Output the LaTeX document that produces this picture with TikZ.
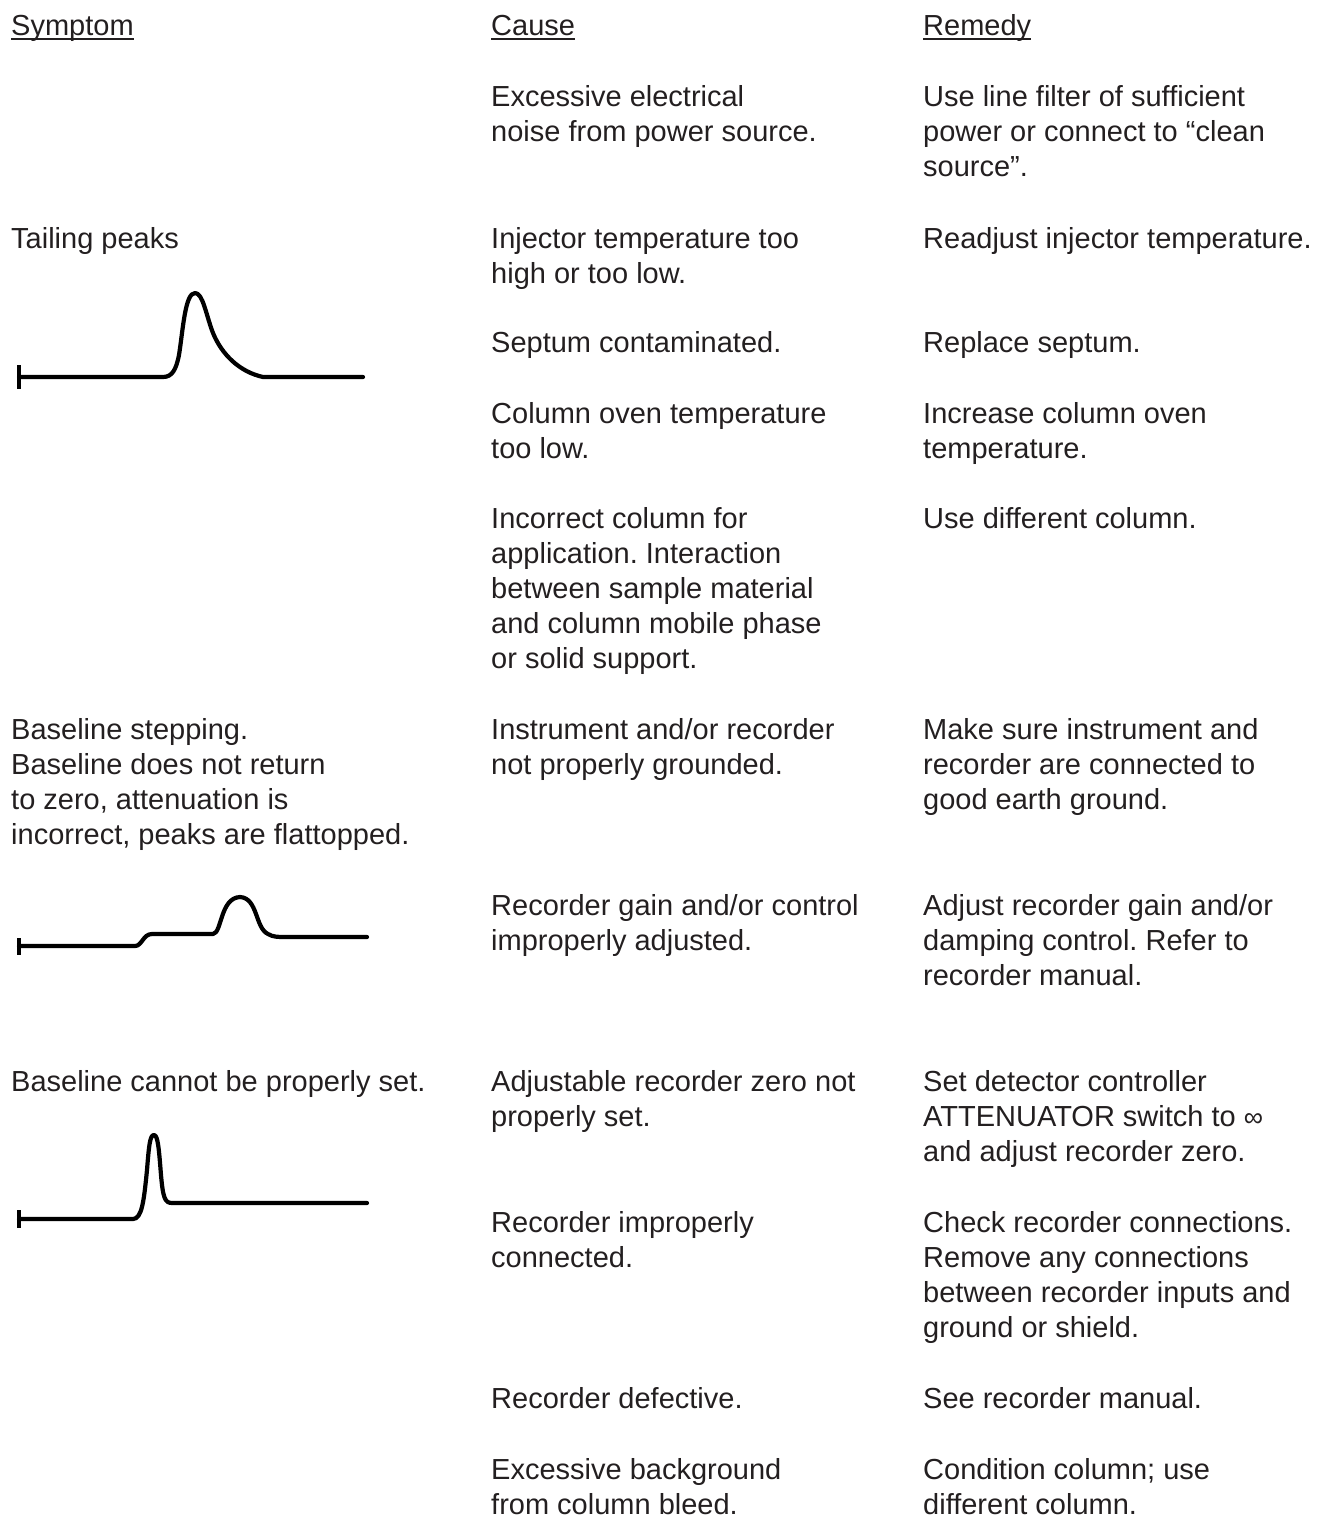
\documentclass[tikz,border=0pt]{standalone}
\usepackage{fontspec}
\setmainfont{Liberation Sans}
\frenchspacing
\definecolor{ink}{HTML}{231F20}
\newcommand\blk[1]{\begin{tabular}[t]{@{}l@{}}#1\end{tabular}}
\begin{document}
\begin{tikzpicture}[x=1pt,y=-1pt,
  txt/.style={anchor=base west, inner sep=0pt, font=\fontsize{29}{35.2}\selectfont\frenchspacing, text=ink},
  trace/.style={draw=black, line width=4.2pt, line cap=round, line join=round},
  tick/.style={draw=black, line width=3.6pt}]
\useasboundingbox (0,0) rectangle (1317,1518);
% headers
\node[txt] (hs) at (11,35) {Symptom};
\node[txt] (hc) at (491,35) {Cause};
\node[txt] (hr) at (923,35) {Remedy};
\foreach \h in {hs,hc,hr}
  \draw[ink, line width=1.8pt] ([yshift=-4pt]\h.base west) -- ([yshift=-4pt]\h.base east);
% row 1
\node[txt] (c1) at (491,106) {\blk{Excessive electrical\\noise from power source.}};
\node[txt] (r1) at (923,106) {\blk{Use line filter of sufficient\\power or connect to “clean\\source”.}};
% tailing peaks
\node[txt] (s2) at (11,248) {Tailing peaks};
\node[txt] (c2) at (491,248) {\blk{Injector temperature too\\high or too low.}};
\node[txt] (r2) at (923,248) {Readjust injector temperature.};
\node[txt] (c3) at (491,352) {Septum contaminated.};
\node[txt] (r3) at (923,352) {Replace septum.};
\node[txt] (c4) at (491,423) {\blk{Column oven temperature\\too low.}};
\node[txt] (r4) at (923,423) {\blk{Increase column oven\\temperature.}};
\node[txt] (c5) at (491,528) {\blk{Incorrect column for\\application. Interaction\\between sample material\\and column mobile phase\\or solid support.}};
\node[txt] (r5) at (923,528) {Use different column.};
% baseline stepping
\node[txt] (s6) at (11,739) {\blk{Baseline stepping.\\Baseline does not return\\to zero, attenuation is\\incorrect, peaks are flattopped.}};
\node[txt] (c6) at (491,739) {\blk{Instrument and/or recorder\\not properly grounded.}};
\node[txt] (r6) at (923,739) {\blk{Make sure instrument and\\recorder are connected to\\good earth ground.}};
\node[txt] (c7) at (491,915) {\blk{Recorder gain and/or control\\improperly adjusted.}};
\node[txt] (r7) at (923,915) {\blk{Adjust recorder gain and/or\\damping control. Refer to\\recorder manual.}};
% baseline cannot be set
\node[txt] (s8) at (11,1091) {Baseline cannot be properly set.};
\node[txt] (c8) at (491,1091) {\blk{Adjustable recorder zero not\\properly set.}};
\node[txt] (r8) at (923,1091) {\blk{Set detector controller\\ATTENUATOR switch to {\fontsize{27}{27}\selectfont ∞}\\and adjust recorder zero.}};
\node[txt] (c9) at (491,1232) {\blk{Recorder improperly\\connected.}};
\node[txt] (r9) at (923,1232) {\blk{Check recorder connections.\\Remove any connections\\between recorder inputs and\\ground or shield.}};
\node[txt] (c10) at (491,1408) {Recorder defective.};
\node[txt] (r10) at (923,1408) {See recorder manual.};
\node[txt] (c11) at (491,1479) {\blk{Excessive background\\from column bleed.}};
\node[txt] (r11) at (923,1479) {\blk{Condition column; use\\different column.}};
% chromatogram 1: tailing peak
\draw[tick] (19,365) -- (19,389);
\draw[trace] (19,377) -- (163,377) .. controls (172,377) and (176,370) .. (179,355)
  .. controls (183,330) and (185,293) .. (195,293)
  .. controls (203,293) and (206,315) .. (213,333)
  .. controls (222,355) and (240,372) .. (263,377) -- (363,377);
% chromatogram 2: baseline step
\draw[tick] (19,938) -- (19,955);
\draw[trace] (19,946) -- (135,946) .. controls (142,946) and (143,934) .. (152,934) -- (213,934)
  .. controls (222,933) and (220,898) .. (240,897)
  .. controls (258,898) and (255,928) .. (268,934)
  .. controls (273,937) and (278,937) .. (285,937) -- (367,937);
% chromatogram 3: narrow peak
\draw[tick] (19,1210) -- (19,1228);
\draw[trace] (19,1219) -- (133,1219) .. controls (142,1219) and (144,1200) .. (147,1170)
  .. controls (149,1145) and (150,1135) .. (154,1135)
  .. controls (158,1135) and (159,1150) .. (161,1175)
  .. controls (163,1198) and (165,1203) .. (172,1203) -- (367,1203);
\end{tikzpicture}
\end{document}
